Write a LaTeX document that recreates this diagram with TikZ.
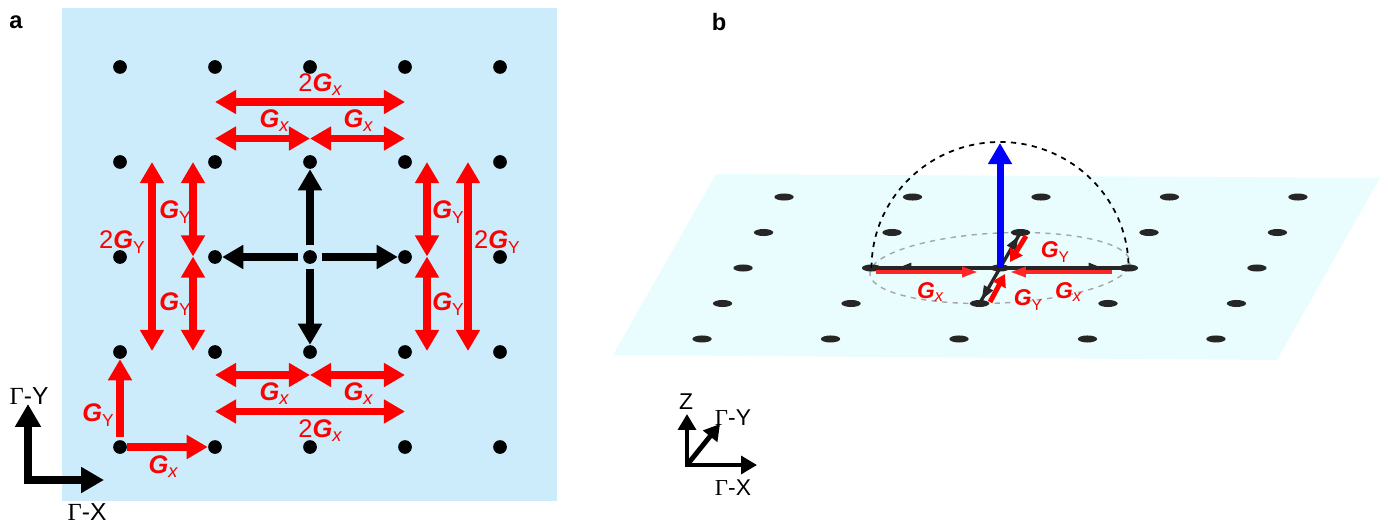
\documentclass[tikz,border=0pt]{standalone}
\usepackage{fontspec}
\setmainfont{Liberation Sans}
\newfontfamily\gammafont{Liberation Serif}
\usetikzlibrary{arrows.meta, decorations.markings, shapes.geometric}
\definecolor{panelblue}{RGB}{204,236,252}
\definecolor{planecyan}{RGB}{234,253,254}
\newcommand{\Gx}{\textbf{\textit{G}}\raisebox{-0.3ex}{\scalebox{0.72}{\itshape x}}}
\newcommand{\Gy}{\textbf{\textit{G}}\raisebox{-0.4ex}{\scalebox{0.68}{Y}}}
\newcommand{\gam}[1]{{\gammafont Γ}-#1}

\begin{document}
\begin{tikzpicture}[x=0.02cm, y=-0.02cm,
  dot/.style={circle, fill=black, inner sep=0pt, minimum size=7.8pt},
  bdot/.style={ellipse, fill=black!85, inner sep=0pt, minimum width=11pt, minimum height=4pt},
  redtwo/.style={draw=red, line width=4.2pt, {Triangle[width=13pt,length=12pt]}-{Triangle[width=13pt,length=12pt]}},
  redone/.style={draw=red, line width=4.2pt, -{Triangle[width=13pt,length=12pt]}},
  blkone/.style={draw=black, line width=4.2pt, -{Triangle[width=13pt,length=12pt]}},
  axbig/.style={draw=black, line width=4.2pt, line join=miter},
  axsmall/.style={draw=black, line width=2.8pt, line join=miter},
  lbl/.style={red, inner sep=0pt, font=\fontsize{14.5}{15}\selectfont},
  lblsmall/.style={red, inner sep=0pt, font=\fontsize{13}{14}\selectfont},
  axlbl/.style={inner sep=0pt, font=\fontsize{14}{15}\selectfont},
  axlblsmall/.style={inner sep=0pt, font=\fontsize{13}{14}\selectfont},
  panel/.style={inner sep=0pt, font=\bfseries\fontsize{13.5}{14}\selectfont},
  tipmark/.style={postaction={decorate, decoration={markings,
    mark=at position #1 with {\arrow{Triangle[width=5.5pt,length=8pt]}}}}},
]
  \useasboundingbox (0,0) rectangle (1389,530);

  \fill[panelblue] (62,8) rectangle (557,501);
  \node[panel] (pa) at (16,22) {a};
  \foreach \i in {0,...,4}
    \foreach \j in {0,...,4}
      \node[dot] (a\i\j) at ({120+95*\i},{67+95*\j}) {};
  \foreach \n in {a12,a32,a21,a23}
    \draw[blkone, shorten <=2.5pt] (a22) -- (\n);

  \coordinate (t1) at (215,102);   \coordinate (t2) at (405,102);
  \coordinate (u1) at (215,138.5); \coordinate (u2) at (310,138.5); \coordinate (u3) at (405,138.5);
  \coordinate (d1) at (215,375);   \coordinate (d2) at (310,375);   \coordinate (d3) at (405,375);
  \coordinate (e1) at (215,411.5); \coordinate (e2) at (405,411.5);
  \coordinate (l1) at (152,162);   \coordinate (l2) at (152,351);
  \coordinate (m1) at (193,162);   \coordinate (m2) at (193,256.5); \coordinate (m3) at (193,351);
  \coordinate (r1) at (427,162);   \coordinate (r2) at (427,256.5); \coordinate (r3) at (427,351);
  \coordinate (s1) at (468,162);   \coordinate (s2) at (468,351);
  \draw[redtwo] (t1) -- (t2);
  \draw[redtwo] (u1) -- (u2);
  \draw[redtwo] (u2) -- (u3);
  \draw[redtwo] (d1) -- (d2);
  \draw[redtwo] (d2) -- (d3);
  \draw[redtwo] (e1) -- (e2);
  \draw[redtwo] (l1) -- (l2);
  \draw[redtwo] (m1) -- (m2);
  \draw[redtwo] (m2) -- (m3);
  \draw[redtwo] (r1) -- (r2);
  \draw[redtwo] (r2) -- (r3);
  \draw[redtwo] (s1) -- (s2);
  \draw[redone, shorten <=1.7pt] (a04) -- (a03);
  \draw[redone] (a04) -- (a14);

  \node[lbl] (g2xt) at (320,85) {2\Gx};
  \node[lbl] (gxt1) at (274,121) {\Gx};
  \node[lbl] (gxt2) at (358,121) {\Gx};
  \node[lbl] (gxb1) at (274,394) {\Gx};
  \node[lbl] (gxb2) at (358,394) {\Gx};
  \node[lbl] (g2xb) at (320,431) {2\Gx};
  \node[lbl] (g2yl) at (122,242) {2\Gy};
  \node[lbl] (gyl1) at (175,212) {\Gy};
  \node[lbl] (gyl2) at (175,304) {\Gy};
  \node[lbl] (gyr1) at (448,212) {\Gy};
  \node[lbl] (gyr2) at (448,304) {\Gy};
  \node[lbl] (g2yr) at (497,242) {2\Gy};
  \node[lbl] (gybl) at (98,415) {\Gy};
  \node[lbl] (gxbl) at (163,467) {\Gx};

  \coordinate (ao) at (28,480);
  \coordinate (ay) at (28,404);
  \coordinate (ax) at (104,480);
  \draw[axbig, {Triangle[width=14pt,length=13pt]}-{Triangle[width=14pt,length=13pt]}] (ay) -- (ao) -- (ax);
  \node[axlbl] (gya) at (29,396) {\gam{Y}};
  \node[axlbl] (gxa) at (87,512) {\gam{X}};

  \node[panel] (pb) at (719,22) {b};
  \fill[planecyan] (716,174) -- (1380,178) -- (1277,360) -- (613,355) -- cycle;
  \begin{scope}[shift={(1000,268)}, x={(2.57cm,0cm)}, y={(0.41cm,0.71cm)}]
    \draw[gray!70, dashed, line width=0.8pt] (0,0) circle (1);
    \foreach \i in {0,...,4}
      \foreach \j in {0,...,4}
        \node[bdot] (b\i\j) at ({\i-2},{\j-2}) {};
  \end{scope}
  \draw[black, dashed, line width=1pt] (b12.center) arc[start angle=180, end angle=360, x radius=128.5, y radius=126];

  \foreach \n/\p in {b12/0.8, b32/0.8, b23/0.9, b21/0.9}
    \draw[black!85, line width=1.9pt, tipmark=\p] (b22.center) -- (\n.center);
  \coordinate (rxl1) at (876,272);  \coordinate (rxl2) at (978,272);
  \coordinate (rxr1) at (1112,272); \coordinate (rxr2) at (1010,272);
  \coordinate (ryt1) at (1026,236); \coordinate (ryt2) at (1010,262);
  \coordinate (ryb1) at (990,302);  \coordinate (ryb2) at (1005,274);
  \draw[red!85, line width=2.2pt, -{Triangle[width=5.5pt,length=9pt]}] (rxl1) -- (rxl2);
  \draw[red!85, line width=2.2pt, -{Triangle[width=5.5pt,length=9pt]}] (rxr1) -- (rxr2);
  \draw[red, line width=2.8pt, -{Triangle[width=8pt,length=7pt]}] (ryt1) -- (ryt2);
  \draw[red, line width=2.8pt, -{Triangle[width=8pt,length=7pt]}] (ryb1) -- (ryb2);

  \coordinate (zt) at (1000,143);
  \draw[blue, line width=4pt, -{Triangle[width=13pt,length=12pt]}] (b22.center) -- (zt);

  \node[lblsmall] (gyb1) at (1055,252) {\Gy};
  \node[lblsmall] (gxb3) at (930,292) {\Gx};
  \node[lblsmall] (gyb2) at (1028,300) {\Gy};
  \node[lblsmall] (gxb4) at (1068,292) {\Gx};

  \coordinate (bo) at (687,465);
  \coordinate (bz) at (687,414);
  \coordinate (bx) at (757,465);
  \coordinate (by) at (720,424);
  \draw[axsmall, {Triangle[width=10pt,length=9pt]}-{Triangle[width=10pt,length=9pt]}] (bz) -- (bo) -- (bx);
  \draw[axsmall, -{Triangle[width=10pt,length=9pt]}] (bo) -- (by);
  \node[axlblsmall] (zb) at (686,402) {Z};
  \node[axlblsmall] (gyb) at (733,418) {\gam{Y}};
  \node[axlblsmall] (gxb) at (733,488) {\gam{X}};
\end{tikzpicture}
\end{document}
